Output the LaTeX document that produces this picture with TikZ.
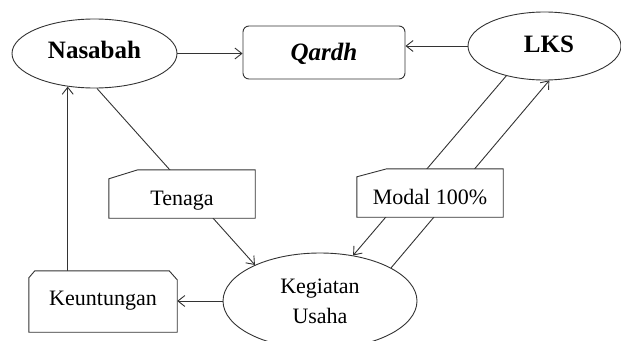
\documentclass[tikz,border=0pt]{standalone}
\usepackage{fontspec}
\setmainfont{Liberation Serif}
\usetikzlibrary{arrows.meta,shapes.geometric}
\pgfdeclarelayer{bg}
\pgfdeclarelayer{mid}
\pgfsetlayers{bg,mid,main}
\begin{document}
\begin{tikzpicture}[x=1pt,y=-1pt,
  ln/.style={draw=black!80, line width=0.9pt},
  arr/.style={ln, -{Straight Barb[length=7pt,width=11pt]}},
  ell/.style={ln, ellipse, inner sep=0pt},
  txt/.style={font=\fontsize{22}{30}\selectfont},
  btxt/.style={font=\fontsize{25}{30}\selectfont\bfseries},
  bitxt/.style={font=\fontsize{25}{30}\selectfont\bfseries\itshape},
  labelbox/.style={minimum width=146pt, minimum height=48pt, inner sep=0pt, align=center},
  outline/.style={ln, fill=white}
]
\useasboundingbox (0,0) rectangle (621,340);
% main nodes
\node[ell, btxt, minimum width=165pt, minimum height=69pt, text height=9pt, text depth=0pt] (nas) at (94.5,53.5) {Nasabah};
\node[ell, btxt, minimum width=153pt, minimum height=68pt, text height=12pt, text depth=0pt] (lks) at (544.5,46) {\hspace*{9pt}LKS};
\node[ln, rounded corners=6pt, bitxt, minimum width=162pt, minimum height=53pt, inner sep=0pt, text height=15pt, text depth=0pt] (qar) at (324,52.5) {Qardh};
\node[ell, txt, align=center, minimum width=194pt, minimum height=96pt] (keg) at (320,301) {Kegiatan\\Usaha};
% label boxes
\node[labelbox, txt, text height=22pt, text depth=0pt] (ten) at (182,194) {Tenaga};
\node[labelbox, txt, text height=22pt, text depth=0pt] (mod) at (430,193) {Modal 100\%};
\node[labelbox, txt, minimum width=148pt, minimum height=61pt, text height=7pt, text depth=0pt] (keu) at (103,301.5) {Keuntungan};
\begin{pgfonlayer}{mid}
\draw[outline] ([yshift=-9pt]ten.north west) -- ([xshift=29pt]ten.north west) -- (ten.north east) -- (ten.south east) -- (ten.south west) -- cycle;
\draw[outline] ([yshift=-8pt]mod.north west) -- ([xshift=30pt]mod.north west) -- (mod.north east) -- (mod.south east) -- (mod.south west) -- cycle;
\draw[outline] ([yshift=-7pt]keu.north west) -- ([xshift=6pt]keu.north west) -- ([xshift=-8pt]keu.north east) -- ([yshift=-9pt]keu.north east) -- (keu.south east) -- (keu.south west) -- cycle;
\end{pgfonlayer}
\begin{pgfonlayer}{bg}
\draw[arr] (nas.east) -- (nas.east -| qar.west);
\draw[arr] (lks.west) -- (lks.west -| qar.east);
\draw[arr] (nas.-86) -- (keg.151);
\draw[arr] (lks.-142.5) -- (keg.54.5);
\draw[arr] (keg.25.9) -- (lks.-82.5);
\draw[arr] (keg.west) -- (keg.west -| keu.east);
\draw[arr] (nas.-129 |- keu.north) -- (nas.-129);
\end{pgfonlayer}
\end{tikzpicture}
\end{document}
